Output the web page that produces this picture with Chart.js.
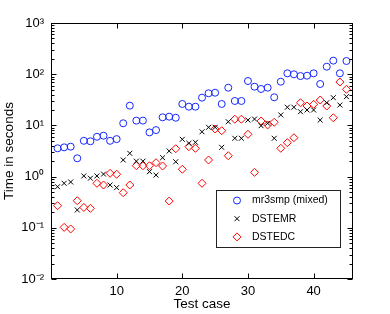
<!DOCTYPE html>
<html>
<head>
<meta charset="utf-8">
<script src="https://cdn.jsdelivr.net/npm/chart.js@4"></script>
<style>
  html, body { margin: 0; padding: 0; background: #fff; }
</style>
</head>
<body>
<canvas id="timing" width="390" height="314"></canvas>
<script>
const testCases = [1, 2, 3, 4, 5, 6, 7, 8, 9, 10, 11, 12, 13, 14, 15,
                   16, 17, 18, 19, 20, 21, 22, 23, 24, 25, 26, 27, 28, 29, 30,
                   31, 32, 33, 34, 35, 36, 37, 38, 39, 40, 41, 42, 43, 44, 45];

// seconds
const mr3smp = [3.57, 3.73, 3.84, 2.28, 5.0, 4.9, 6.0, 6.3, 5.0, 5.4, 11.0, 24.3, 12.4, 12.4, 7.3,
                8.1, 14.4, 14.8, 14.1, 26.2, 23.2, 23.2, 34.8, 42.4, 43.5, 26.2, 54.5, 30, 30, 73.6,
                57, 51.4, 54.5, 35.4, 71.4, 104, 99.5, 92, 93.5, 104, 64.4, 140, 184, 104, 181];
const dstemr = [0.635, 0.74, 0.785, 0.223, 1.03, 0.93, 1.03, 1.12, 0.685, 0.61, 2.11, 2.85, 2.0, 2.0, 1.25,
                1.07, 2.34, 3.16, 1.95, 5.35, 4.47, 4.68, 7.5, 9.18, 9.18, 3.73, 11.8, 5.6, 5.6, 12.7,
                13.3, 9.86, 11.0, 5.6, 16.0, 22.6, 22.6, 18.5, 20, 20, 12.7, 27.7, 34.8, 25, 36.4];
const dstedc = [0.27, 0.102, 0.095, 0.338, 0.25, 0.24, 0.74, 0.685, 1.16, 1.11, 0.485, 0.685, 1.63, 1.63, 1.63,
                1.87, 1.61, 0.333, 3.5, 1.39, 3.84, 3.57, 0.74, 2.11, 8.5, 7.87, 2.56, 13.2, 13.2, 6.7,
                1.21, 12.2, 10.2, 11.5, 3.57, 4.6, 5.75, 27.7, 23.9, 25.8, 31.3, 23.9, 14.1, 70.4, 50.7];

const yTickValues = [0.01, 0.1, 1, 10, 100, 1000];
const yTickLabels = ['10\u207B\u00B2', '10\u207B\u00B9', '10\u2070', '10\u00B9', '10\u00B2', '10\u00B3'];
const xTickValues = [10, 20, 30, 40];

const FONT = "'Liberation Sans', Arial, Helvetica, sans-serif";

function pts(vals) {
    return testCases.map((c, i) => ({ x: c, y: vals[i] }));
}

function marker(ctx, style, r, x, y) {
    ctx.beginPath();
    if (style === 'circle') {
        ctx.arc(x, y, r, 0, Math.PI * 2);
    } else if (style === 'crossRot') {
        const d = r * Math.SQRT1_2;
        ctx.moveTo(x - d, y - d); ctx.lineTo(x + d, y + d);
        ctx.moveTo(x - d, y + d); ctx.lineTo(x + d, y - d);
    } else {
        ctx.moveTo(x, y - r); ctx.lineTo(x + r, y);
        ctx.lineTo(x, y + r); ctx.lineTo(x - r, y);
        ctx.closePath();
    }
    ctx.stroke();
}

// box, inward ticks (log minors too) and the legend inside the axes
const matlabAxes = {
    id: 'matlabAxes',
    afterDatasetsDraw(chart) {
        const { ctx, chartArea: a, scales: { x, y } } = chart;
        const L = Math.round(a.left) + 0.5, R = Math.round(a.right) - 0.5;
        const T = Math.round(a.top) + 0.5, B = Math.round(a.bottom) - 0.5;
        ctx.save();
        ctx.strokeStyle = '#000';
        ctx.lineWidth = 1;
        ctx.strokeRect(L, T, R - L, B - T);
        ctx.beginPath();
        xTickValues.forEach(v => {
            const px = Math.round(x.getPixelForValue(v)) + 0.5;
            ctx.moveTo(px, B); ctx.lineTo(px, B - 5);
            ctx.moveTo(px, T); ctx.lineTo(px, T + 5);
        });
        yTickValues.forEach(base => {
            for (let k = 1; k <= 9; k++) {
                const v = base * k;
                if (v > 1000) break;
                const len = k === 1 ? 5 : 3;
                const py = Math.round(y.getPixelForValue(v)) + 0.5;
                ctx.moveTo(L, py); ctx.lineTo(L + len, py);
                ctx.moveTo(R, py); ctx.lineTo(R - len, py);
            }
        });
        ctx.stroke();

        // legend
        const lx = a.left + 165, ly = a.top + 167, lw = 124, lh = 57;
        ctx.fillStyle = '#fff';
        ctx.fillRect(lx, ly, lw, lh);
        ctx.strokeStyle = '#222';
        ctx.strokeRect(Math.round(lx) + 0.5, Math.round(ly) + 0.5, lw, lh);
        ctx.font = '10.5px ' + FONT;
        ctx.textBaseline = 'middle';
        ctx.textAlign = 'left';
        chart.data.datasets.forEach((ds, i) => {
            const ry = ly + 10.5 + i * 18.2;
            ctx.strokeStyle = ds.borderColor;
            ctx.lineWidth = 1;
            marker(ctx, ds.pointStyle, ds.pointRadius, lx + 21, ry);
            ctx.fillStyle = '#000';
            ctx.fillText(ds.label, lx + 36, ry);
        });
        ctx.restore();
    }
};

new Chart(document.getElementById('timing'), {
    type: 'scatter',
    data: {
        datasets: [{
            label: 'mr3smp (mixed)',
            data: pts(mr3smp),
            pointStyle: 'circle',
            pointRadius: 3.5,
            borderColor: 'rgb(20,40,255)',
            backgroundColor: 'rgba(0,0,0,0)',
            borderWidth: 1
        }, {
            label: 'DSTEMR',
            data: pts(dstemr),
            pointStyle: 'crossRot',
            pointRadius: 3.5,
            borderColor: '#000',
            backgroundColor: 'rgba(0,0,0,0)',
            borderWidth: 1
        }, {
            label: 'DSTEDC',
            data: pts(dstedc),
            pointStyle: 'rectRot',
            pointRadius: 4,
            borderColor: 'rgb(255,0,0)',
            backgroundColor: 'rgba(0,0,0,0)',
            borderWidth: 1
        }]
    },
    options: {
        responsive: false,
        animation: false,
        events: [],
        layout: { padding: { top: 23, right: 37, left: 0, bottom: 0 } },
        plugins: { legend: { display: false }, tooltip: { enabled: false } },
        scales: {
            x: {
                type: 'linear',
                min: 0,
                max: 46,
                afterBuildTicks: s => { s.ticks = xTickValues.map(v => ({ value: v })); },
                afterFit: s => { s.height = 35; },
                grid: { display: false, drawTicks: false },
                border: { display: false },
                ticks: { color: '#000', padding: 5, maxRotation: 0, font: { family: FONT, size: 13 } },
                title: { display: true, text: 'Test case', color: '#000',
                         padding: { top: 0, bottom: 2 }, font: { family: FONT, size: 13.5 } }
            },
            y: {
                type: 'logarithmic',
                min: 0.01,
                max: 1000,
                afterBuildTicks: s => { s.ticks = yTickValues.map(v => ({ value: v, major: true })); },
                afterFit: s => { s.width = 51; },
                grid: { display: false, drawTicks: false },
                border: { display: false },
                ticks: {
                    color: '#000', padding: 7, font: { family: FONT, size: 13 },
                    callback: v => yTickLabels[yTickValues.indexOf(v)] || ''
                },
                title: { display: true, text: 'Time in seconds', color: '#000',
                         padding: { top: 1, bottom: 0 }, font: { family: FONT, size: 13.5 } }
            }
        }
    },
    plugins: [matlabAxes]
});
</script>
</body>
</html>
